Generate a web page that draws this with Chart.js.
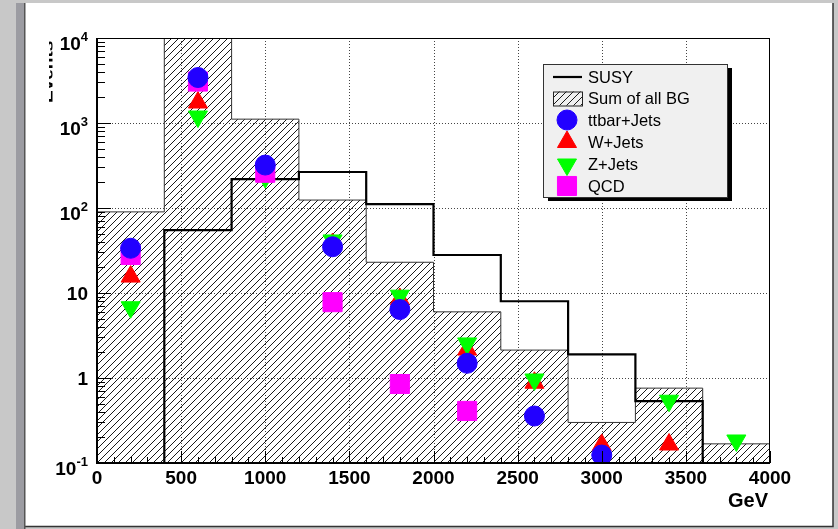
<!DOCTYPE html>
<html>
<head>
<meta charset="utf-8">
<script src="https://cdn.jsdelivr.net/npm/chart.js@4.4.1/dist/chart.umd.min.js"></script>
<style>
  body { margin: 0; background: #c8c8c8; }
  #wrap { width: 838px; height: 529px; }
</style>
</head>
<body>
<div id="wrap"><canvas id="plot" width="838" height="529"></canvas></div>
<script>
// bin edges (GeV) and bin centres
const binEdges = [0, 400, 800, 1200, 1600, 2000, 2400, 2800, 3200, 3600, 4000];
const binCenters = [200, 600, 1000, 1400, 1800, 2200, 2600, 3000, 3400, 3800];

// histogram contents per bin
const bgSum = [90, 11000, 1110, 124, 23, 6.0, 2.13, 0.30, 0.76, 0.168];
const susy  = [0, 55, 219, 265, 111, 28, 8.0, 1.9, 0.535, 0];

// markers per bin (null = not drawn)
const ttbar = [33.6, 3430, 320, 35, 6.4, 1.49, 0.357, 0.124, null, null];
const wjets = [15.6, 1742, 250, 37.7, 8.5, 2.16, 0.88, 0.163, 0.165, null];
const zjets = [6.8, 1192, 230, 41.5, 9.3, 2.55, 0.96, null, 0.54, 0.184];
const qcd   = [28, 3076, 260, 7.8, 0.85, 0.41, null, null, null, null];

const xTicks = [0, 500, 1000, 1500, 2000, 2500, 3000, 3500, 4000];
const yTicks = [0.1, 1, 10, 100, 1000, 10000];
const yTickLabels = [["10", "-1"], ["1", ""], ["10", ""], ["10", "2"], ["10", "3"], ["10", "4"]];
const xTitle = "GeV";
const yTitle = "Events";
const yMin = 0.1, yMax = 10000;

// empty bins sit on the floor of the log axis, like ROOT draws them
function steps(vals) {
  const pts = vals.map((v, i) => ({ x: binEdges[i], y: v > 0 ? v : yMin }));
  pts.push({ x: binEdges[binEdges.length - 1], y: pts[pts.length - 1].y });
  return pts;
}
function marks(vals) {
  return vals.map((v, i) => ({ x: binCenters[i], y: v })).filter(p => p.y !== null);
}

const ctxMain = document.getElementById("plot").getContext("2d");

function hatchPattern(ctx) {
  const s = 7;
  const c = document.createElement("canvas");
  c.width = s; c.height = s;
  const g = c.getContext("2d");
  g.strokeStyle = "#1a1a1a";
  g.lineWidth = 1;
  g.beginPath();
  g.moveTo(-1, s + 1); g.lineTo(s + 1, -1);
  g.moveTo(-1, 1); g.lineTo(1, -1);
  g.moveTo(s - 1, s + 1); g.lineTo(s + 1, s - 1);
  g.stroke();
  return ctx.createPattern(c, "repeat");
}
const hatch = hatchPattern(ctxMain);

const markerSets = [
  { label: "ttbar+Jets", data: ttbar, color: "#2200ff", style: "circle", radius: 10, rot: 0, order: 1 },
  { label: "W+Jets", data: wjets, color: "#ff0000", style: "triangle", radius: 11, rot: 0, order: 4 },
  { label: "Z+Jets", data: zjets, color: "#00ff00", style: "triangle", radius: 11, rot: 180, order: 3 },
  { label: "QCD", data: qcd, color: "#ff00ff", style: "rect", radius: 13.5, rot: 0, order: 2 }
];

const datasets = [
  {
    label: "SUSY",
    data: steps(susy),
    stepped: "before",
    borderColor: "#000",
    borderWidth: 2.2,
    pointRadius: 0,
    fill: false,
    order: 5
  },
  {
    label: "Sum of all BG",
    data: steps(bgSum),
    stepped: "before",
    borderColor: "#333",
    borderWidth: 1,
    backgroundColor: hatch,
    pointRadius: 0,
    fill: "start",
    order: 6
  }
];
markerSets.forEach(m => {
  datasets.push({
    label: m.label,
    data: marks(m.data),
    showLine: false,
    pointStyle: m.style,
    pointRadius: m.radius,
    pointRotation: m.rot,
    backgroundColor: m.color,
    borderColor: m.color,
    pointBorderWidth: 1,
    order: m.order
  });
});

const frame = {
  id: "frame",
  beforeDraw(chart) {
    const c = chart.ctx;
    c.save();
    c.fillStyle = "#c8c8c8";
    c.fillRect(0, 0, 838, 529);
    c.fillStyle = "#9c9ca2";
    c.fillRect(16, 3, 9, 526);
    c.fillStyle = "#ffffff";
    c.fillRect(25, 3, 808, 523);
    c.strokeStyle = "#333";
    c.lineWidth = 1.5;
    c.beginPath();
    c.moveTo(25, 526.5); c.lineTo(833, 526.5); c.lineTo(833, 3);
    c.stroke();
    c.fillStyle = "#555";
    c.fillRect(24, 3, 1.5, 526);
    c.restore();
  },
  beforeDatasetsDraw(chart) {
    const c = chart.ctx, a = chart.chartArea;
    const xs = chart.scales.x, ys = chart.scales.y;
    c.save();
    c.strokeStyle = "#444";
    c.lineWidth = 1;
    c.setLineDash([1, 2]);
    c.beginPath();
    xTicks.slice(1, -1).forEach(v => {
      const px = Math.round(xs.getPixelForValue(v)) + 0.5;
      c.moveTo(px, a.top); c.lineTo(px, a.bottom);
    });
    yTicks.slice(1, -1).forEach(v => {
      const py = Math.round(ys.getPixelForValue(v)) + 0.5;
      c.moveTo(a.left, py); c.lineTo(a.right, py);
    });
    c.stroke();
    c.restore();
  },
  afterDatasetsDraw(chart) {
    const c = chart.ctx, a = chart.chartArea;
    const xs = chart.scales.x, ys = chart.scales.y;
    c.save();
    // frame
    c.strokeStyle = "#000";
    c.lineWidth = 1;
    c.strokeRect(a.left + 0.5, a.top + 0.5, a.right - a.left - 1, a.bottom - a.top - 1);
    c.lineWidth = 2;
    c.beginPath();
    c.moveTo(a.left, a.top); c.lineTo(a.left, a.bottom); c.lineTo(a.right, a.bottom);
    c.stroke();
    // y ticks
    c.lineWidth = 1;
    c.beginPath();
    for (let e = -1; e <= 4; e++) {
      const base = Math.pow(10, e);
      const py = Math.round(ys.getPixelForValue(base)) + 0.5;
      c.moveTo(a.left, py); c.lineTo(a.left + 14, py);
      if (e < 4) {
        for (let k = 2; k <= 9; k++) {
          const my = Math.round(ys.getPixelForValue(base * k)) + 0.5;
          c.moveTo(a.left, my); c.lineTo(a.left + 8, my);
        }
      }
    }
    // x ticks
    for (let v = 0; v <= 4000; v += 100) {
      const px = Math.round(xs.getPixelForValue(v)) + 0.5;
      const len = v % 500 === 0 ? 12 : 6;
      c.moveTo(px, a.bottom); c.lineTo(px, a.bottom - len);
    }
    c.stroke();
    // labels
    c.fillStyle = "#000";
    c.font = "bold 19px 'Liberation Sans', Arial, sans-serif";
    c.textAlign = "center";
    c.textBaseline = "alphabetic";
    xTicks.forEach(v => c.fillText(String(v), xs.getPixelForValue(v), a.bottom + 21));
    yTicks.forEach((v, i) => {
      const py = ys.getPixelForValue(v);
      const [b, sup] = yTickLabels[i];
      c.textAlign = "right";
      if (sup) {
        c.font = "bold 13px 'Liberation Sans', Arial, sans-serif";
        const sw = c.measureText(sup).width;
        c.fillText(sup, 88, py + 2.5);
        c.font = "bold 19px 'Liberation Sans', Arial, sans-serif";
        c.fillText(b, 88 - sw, py + 11.5);
      } else {
        c.font = "bold 19px 'Liberation Sans', Arial, sans-serif";
        c.fillText(b, 88, py + 6.5);
      }
    });
    c.font = "bold 20px 'Liberation Sans', Arial, sans-serif";
    c.textAlign = "right";
    c.fillText(xTitle, 768, 507);
    // y title (only its baseline strip shows)
    c.save();
    c.beginPath();
    c.rect(49, 30, 3.5, 80);
    c.clip();
    c.translate(52.5, 103);
    c.rotate(-Math.PI / 2);
    c.textAlign = "left";
    c.font = "bold 19px 'Liberation Sans', Arial, sans-serif";
    c.fillText(yTitle, 0, 0);
    c.restore();
    c.restore();
  },
  afterDraw(chart) {
    const c = chart.ctx;
    const bx = 543, by = 64, bw = 184, bh = 133;
    c.save();
    c.fillStyle = "#000";
    c.fillRect(bx + 5, by + 4, bw, bh);
    c.fillStyle = "#f0f0f0";
    c.fillRect(bx, by, bw, bh);
    c.strokeStyle = "#333";
    c.lineWidth = 1;
    c.strokeRect(bx + 0.5, by + 0.5, bw, bh);
    const rows = [77, 98.5, 120, 142, 164.5, 186];
    const labels = chart.data.datasets.map(d => d.label);
    c.font = "16.5px 'Liberation Sans', Arial, sans-serif";
    c.textAlign = "left";
    c.textBaseline = "middle";
    c.fillStyle = "#000";
    // SUSY
    c.strokeStyle = "#000";
    c.lineWidth = 2.2;
    c.beginPath(); c.moveTo(553, rows[0]); c.lineTo(582, rows[0]); c.stroke();
    c.fillText(labels[0], 588, rows[0] + 1);
    // BG
    c.fillStyle = hatch;
    c.fillRect(553, rows[1] - 7, 29, 14);
    c.strokeStyle = "#222";
    c.lineWidth = 1;
    c.strokeRect(553.5, rows[1] - 6.5, 29, 14);
    c.fillStyle = "#000";
    c.fillText(labels[1], 588, rows[1] + 1);
    markerSets.forEach((m, i) => {
      const y = rows[i + 2];
      c.fillStyle = m.color;
      c.strokeStyle = m.color;
      Chart.helpers.drawPoint(c, { pointStyle: m.style, rotation: m.rot, radius: m.radius, borderWidth: 1 }, 567, y);
      c.fillStyle = "#000";
      c.fillText(m.label, 588, y + 1);
    });
    c.restore();
  }
};

new Chart(ctxMain, {
  type: "line",
  data: { datasets: datasets },
  options: {
    responsive: false,
    animation: false,
    events: [],
    layout: { padding: { left: 97, right: 68, top: 38, bottom: 66 } },
    plugins: { legend: { display: false }, tooltip: { enabled: false } },
    scales: {
      x: { type: "linear", min: 0, max: 4000, display: false },
      y: { type: "logarithmic", min: yMin, max: yMax, display: false }
    }
  },
  plugins: [frame]
});
</script>
</body>
</html>
